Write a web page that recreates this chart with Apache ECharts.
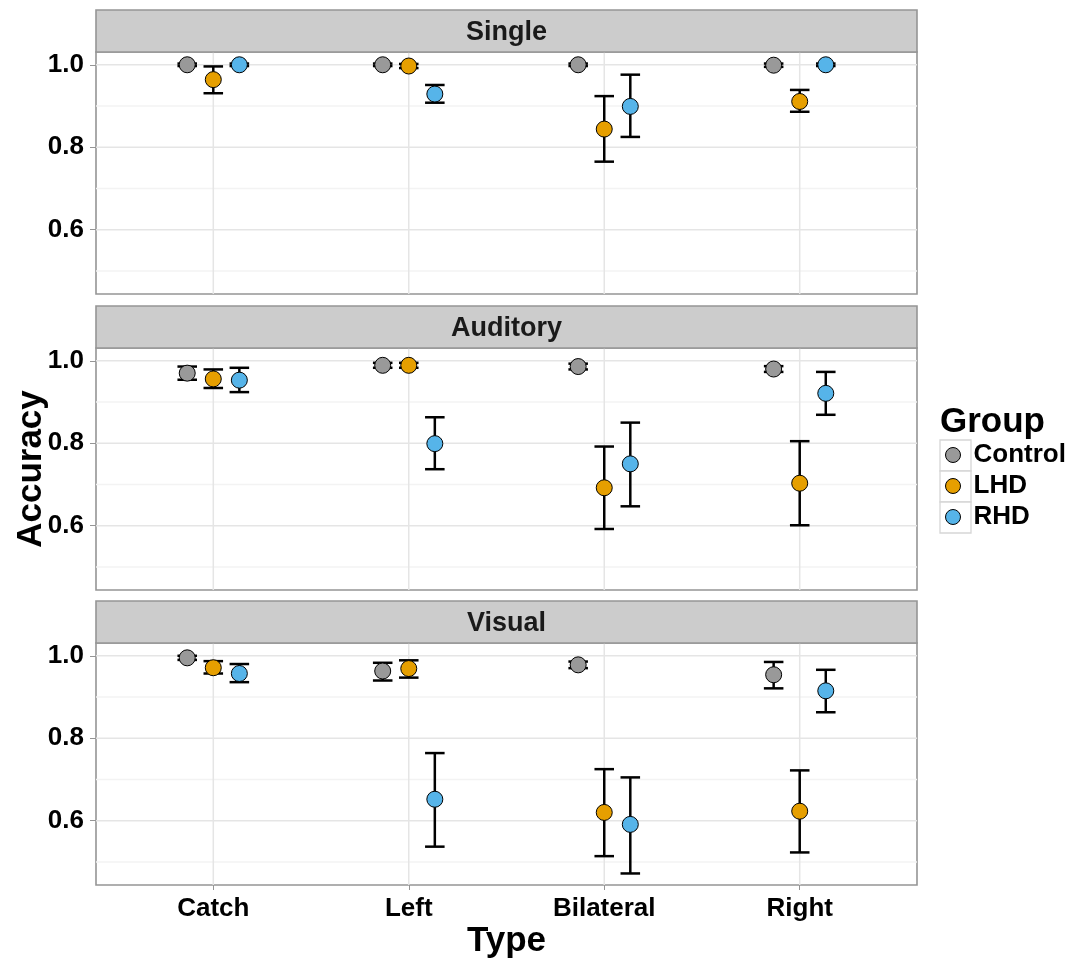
<!DOCTYPE html>
<html>
<head>
<meta charset="utf-8">
<script src="https://cdn.jsdelivr.net/npm/echarts@6/dist/echarts.min.js"></script>
<style>
  html, body { margin: 0; padding: 0; background: #ffffff; }
  #chart { width: 1077px; height: 961px; }
</style>
</head>
<body>
<div id="chart"></div>
<script>
// ---- data ----
const types = ['Catch', 'Left', 'Bilateral', 'Right'];
const groups = ['Control', 'LHD', 'RHD'];
const panels = ['Single', 'Auditory', 'Visual'];
const groupColors = ['#999999', '#E69F00', '#56B4E9'];

// mean accuracy per panel, group, type (Catch, Left, Bilateral, Right)
const singleMean = {
  Control: [1.000, 1.000, 1.000, 0.999],
  LHD:     [0.964, 0.997, 0.844, 0.911],
  RHD:     [1.000, 0.929, 0.899, 1.000]
};
const singleLow = {
  Control: [0.997, 0.997, 0.997, 0.995],
  LHD:     [0.931, 0.992, 0.765, 0.886],
  RHD:     [0.997, 0.908, 0.825, 0.997]
};
const singleHigh = {
  Control: [1.003, 1.003, 1.003, 1.003],
  LHD:     [0.996, 1.002, 0.924, 0.939],
  RHD:     [1.003, 0.951, 0.976, 1.003]
};

const auditoryMean = {
  Control: [0.970, 0.989, 0.986, 0.980],
  LHD:     [0.956, 0.989, 0.692, 0.703],
  RHD:     [0.953, 0.799, 0.750, 0.921]
};
const auditoryLow = {
  Control: [0.954, 0.983, 0.979, 0.973],
  LHD:     [0.934, 0.983, 0.592, 0.601],
  RHD:     [0.924, 0.737, 0.647, 0.869]
};
const auditoryHigh = {
  Control: [0.986, 0.995, 0.993, 0.987],
  LHD:     [0.979, 0.995, 0.792, 0.805],
  RHD:     [0.983, 0.863, 0.850, 0.973]
};

const visualMean = {
  Control: [0.995, 0.963, 0.978, 0.954],
  LHD:     [0.971, 0.969, 0.620, 0.623],
  RHD:     [0.957, 0.652, 0.591, 0.915]
};
const visualLow = {
  Control: [0.990, 0.940, 0.970, 0.921],
  LHD:     [0.957, 0.947, 0.514, 0.523],
  RHD:     [0.936, 0.537, 0.472, 0.863]
};
const visualHigh = {
  Control: [1.000, 0.983, 0.986, 0.985],
  LHD:     [0.987, 0.989, 0.725, 0.722],
  RHD:     [0.980, 0.764, 0.705, 0.966]
};

const yMajorTicks = [0.6, 0.8, 1.0];
const yMinorTicks = [0.5, 0.7, 0.9];
const yMin = 0.444;
const yMax = 1.031;

// ---- layout ----
const FONT = '"Liberation Sans", Arial, Helvetica, sans-serif';
const PLOT_LEFT = 96;
const PLOT_WIDTH = 821;
const PLOT_TOPS = [52, 348, 643];
const PLOT_HEIGHT = 242;
const STRIP_HEIGHT = 42;
const BORDER = '#959595';
const DODGE = 0.4;        // total dodge width in category units
const CAP_HALF = 0.05;    // half width of error bar caps

const panelData = [
  { mean: singleMean, low: singleLow, high: singleHigh },
  { mean: auditoryMean, low: auditoryLow, high: auditoryHigh },
  { mean: visualMean, low: visualLow, high: visualHigh }
];

function dodgeX(typeIdx, groupIdx) {
  return typeIdx + 1 + (groupIdx - 1) * DODGE / 3;
}

const grids = [], xAxes = [], yAxes = [], series = [], graphics = [];

panels.forEach((panel, p) => {
  const isBottom = p === panels.length - 1;
  grids.push({
    left: PLOT_LEFT, top: PLOT_TOPS[p], width: PLOT_WIDTH, height: PLOT_HEIGHT,
    outerBoundsMode: 'none', containLabel: false,
    show: true, backgroundColor: '#ffffff', borderColor: BORDER, borderWidth: 1.6
  });

  xAxes.push({
    type: 'value', gridIndex: p, min: 0.4, max: 4.6,
    axisLine: { show: false },
    splitLine: { show: false },
    axisTick: {
      show: isBottom, customValues: types.map((t, i) => i + 1),
      length: 5, lineStyle: { color: BORDER, width: 1 }
    },
    axisLabel: {
      show: isBottom, customValues: types.map((t, i) => i + 1),
      formatter: v => types[Math.round(v) - 1],
      fontFamily: FONT, fontSize: 26, fontWeight: 'bold', color: '#000', margin: 11
    },
    name: isBottom ? 'Type' : '',
    nameLocation: 'middle', nameGap: 39,
    nameTextStyle: { fontFamily: FONT, fontSize: 35, fontWeight: 'bold', color: '#000' }
  });

  yAxes.push({
    type: 'value', gridIndex: p, min: yMin, max: yMax,
    axisLine: { show: false },
    splitLine: { show: false },
    axisTick: {
      show: true, customValues: yMajorTicks, length: 6,
      lineStyle: { color: BORDER, width: 1 }
    },
    axisLabel: {
      customValues: yMajorTicks,
      formatter: v => v.toFixed(1),
      fontFamily: FONT, fontSize: 26, fontWeight: 'bold', color: '#000', margin: 12
    },
    name: p === 1 ? 'Accuracy' : '',
    nameLocation: 'middle', nameGap: 47, nameRotate: 90,
    nameMoveOverlap: false,
    nameTextStyle: { fontFamily: FONT, fontSize: 35, fontWeight: 'bold', color: '#000' }
  });

  // panel grid lines
  series.push({
    type: 'custom', xAxisIndex: p, yAxisIndex: p, silent: true, z: 1,
    data: [[1, 1]],
    renderItem: (params, api) => {
      const cs = params.coordSys;
      const children = [];
      yMinorTicks.forEach(v => {
        const y = api.coord([1, v])[1];
        children.push({ type: 'line', shape: { x1: cs.x, y1: y, x2: cs.x + cs.width, y2: y },
          style: { stroke: '#f3f3f3', lineWidth: 1.5 } });
      });
      yMajorTicks.forEach(v => {
        const y = api.coord([1, v])[1];
        children.push({ type: 'line', shape: { x1: cs.x, y1: y, x2: cs.x + cs.width, y2: y },
          style: { stroke: '#e5e5e5', lineWidth: 1.5 } });
      });
      types.forEach((t, i) => {
        const x = api.coord([i + 1, 1])[0];
        children.push({ type: 'line', shape: { x1: x, y1: cs.y, x2: x, y2: cs.y + cs.height },
          style: { stroke: '#e5e5e5', lineWidth: 1.5 } });
      });
      return { type: 'group', children };
    }
  });

  const d = panelData[p];
  groups.forEach((g, gi) => {
    // error bars
    series.push({
      type: 'custom', xAxisIndex: p, yAxisIndex: p, silent: true, z: 2,
      data: types.map((t, ti) => [dodgeX(ti, gi), d.mean[g][ti], d.low[g][ti], d.high[g][ti]]),
      encode: { x: 0, y: [2, 3] },
      renderItem: (params, api) => {
        const x = api.value(0);
        const lo = api.coord([x, api.value(2)]);
        const hi = api.coord([x, api.value(3)]);
        const half = api.size([CAP_HALF, 0])[0];
        const style = { stroke: '#000', lineWidth: 2.5 };
        return {
          type: 'group',
          children: [
            { type: 'line', shape: { x1: lo[0], y1: lo[1], x2: hi[0], y2: hi[1] }, style },
            { type: 'line', shape: { x1: lo[0] - half, y1: lo[1], x2: lo[0] + half, y2: lo[1] }, style },
            { type: 'line', shape: { x1: hi[0] - half, y1: hi[1], x2: hi[0] + half, y2: hi[1] }, style }
          ]
        };
      }
    });
    // points
    series.push({
      type: 'scatter', name: g, xAxisIndex: p, yAxisIndex: p, z: 3,
      symbol: 'circle', symbolSize: 16,
      itemStyle: { color: groupColors[gi], borderColor: '#000', borderWidth: 1, opacity: 1 },
      data: types.map((t, ti) => [dodgeX(ti, gi), d.mean[g][ti]])
    });
  });

  // facet strip
  graphics.push({
    type: 'rect', z: 5,
    shape: { x: PLOT_LEFT, y: PLOT_TOPS[p] - STRIP_HEIGHT, width: PLOT_WIDTH, height: STRIP_HEIGHT },
    style: { fill: '#cccccc', stroke: BORDER, lineWidth: 1.6 }
  });
  graphics.push({
    type: 'text', z: 6,
    x: PLOT_LEFT + PLOT_WIDTH / 2, y: PLOT_TOPS[p] - STRIP_HEIGHT / 2 + 2,
    style: { text: panel, font: 'bold 27px ' + FONT, fill: '#1a1a1a', align: 'center', verticalAlign: 'middle' }
  });
});

// legend title and key boxes
graphics.push({
  type: 'text', z: 6, x: 940, y: 422,
  style: { text: 'Group', font: 'bold 35px ' + FONT, fill: '#000', align: 'left', verticalAlign: 'middle' }
});
groups.forEach((g, gi) => {
  graphics.push({
    type: 'rect', z: 0,
    shape: { x: 940, y: 440 + gi * 31, width: 31, height: 31 },
    style: { fill: '#ffffff', stroke: '#d6d6d6', lineWidth: 1.3 }
  });
});

const option = {
  animation: false,
  backgroundColor: '#ffffff',
  grid: grids,
  xAxis: xAxes,
  yAxis: yAxes,
  legend: {
    data: groups.map(g => ({ name: g, icon: 'circle' })),
    orient: 'vertical', left: 940, top: 437,
    itemWidth: 31, itemHeight: 15, itemGap: 5,
    selectedMode: false,
    itemStyle: { borderColor: '#000', borderWidth: 1 },
    textStyle: { fontFamily: FONT, fontSize: 26, fontWeight: 'bold', color: '#000' }
  },
  graphic: graphics,
  series: series
};

const chart = echarts.init(document.getElementById('chart'), null, { renderer: 'canvas' });
chart.setOption(option);
</script>
</body>
</html>
